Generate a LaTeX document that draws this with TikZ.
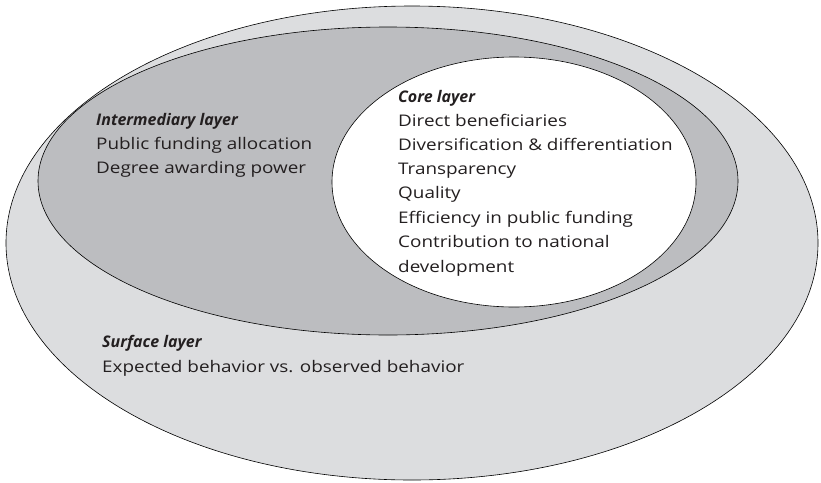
\documentclass[tikz,border=0pt]{standalone}
\usepackage{fontspec}
\setmainfont[FakeStretch=1.18]{Open Sans}
\newfontfamily\titlefont{Open Sans}
\definecolor{surfacefill}{HTML}{DCDDDF}
\definecolor{midfill}{HTML}{BCBDC0}
\definecolor{textcol}{HTML}{231F20}
\begin{document}
\begin{tikzpicture}[x=1pt,y=-1pt,
  layer/.style={draw=black,line width=0.6pt},
  txt/.style={anchor=base west,inner sep=0pt,text=textcol,font=\fontsize{16}{18}\selectfont},
  ttl/.style={txt,font=\titlefont\fontsize{16}{18}\selectfont\bfseries\itshape}]
\useasboundingbox (0,0) rectangle (821,482);
% layers
\draw[layer,fill=surfacefill] (412,243) ellipse [x radius=406,y radius=237];
\draw[layer,fill=midfill] (388,181) ellipse [x radius=350,y radius=154];
\draw[layer,fill=white] (514,182) ellipse [x radius=182,y radius=125];
% core layer text
\node[ttl] (c0) at (398,102) {Core layer};
\node[txt] (c1) at (398,126.5) {Direct beneficiaries};
\node[txt] (c2) at (398,150.5) {Diversification \& differentiation};
\node[txt] (c3) at (398,174.5) {Transparency};
\node[txt] (c4) at (398,198.5) {Quality};
\node[txt] (c5) at (398,223) {Efficiency in public funding};
\node[txt] (c6) at (398,247.5) {Contribution to national};
\node[txt] (c7) at (398,272) {development};
% intermediary layer text
\node[ttl] (i0) at (96,125) {Intermediary layer};
\node[txt] (i1) at (96,149) {Public funding allocation};
\node[txt] (i2) at (96,173) {Degree awarding power};
% surface layer text
\node[ttl] (s0) at (102,347) {Surface layer};
\node[txt] (s1) at (102,372) {Expected behavior vs. observed behavior};
\end{tikzpicture}
\end{document}
